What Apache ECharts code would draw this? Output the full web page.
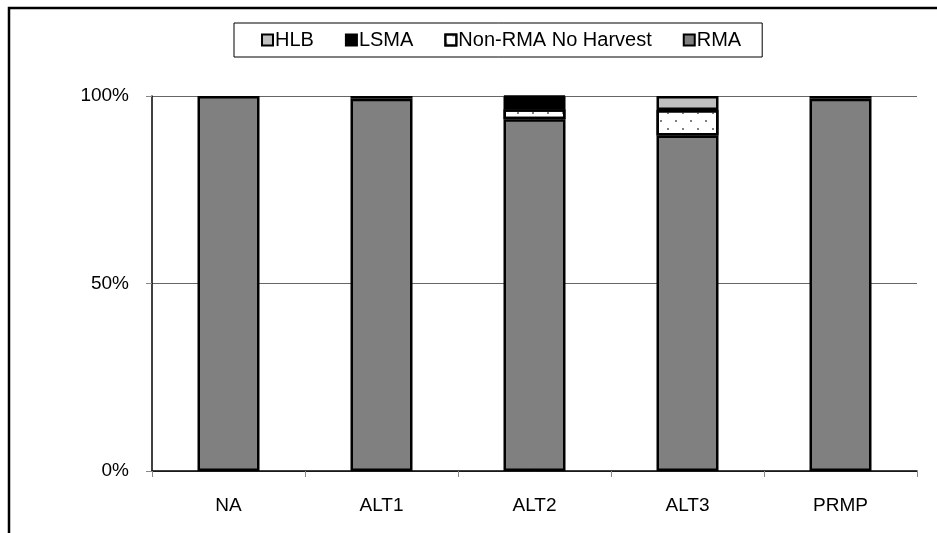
<!DOCTYPE html>
<html><head><meta charset="utf-8">
<script src="https://cdn.jsdelivr.net/npm/echarts@6/dist/echarts.min.js"></script>
<style>html,body{margin:0;padding:0;background:#fff}#c{width:937px;height:533px}</style>
</head><body><div id="c"></div>
<script>
const categories = ['NA', 'ALT1', 'ALT2', 'ALT3', 'PRMP'];
const rma = [100, 99.3, 93.8, 89.5, 99.3];
const nonRma = [0, 0, 2.7, 6.8, 0];
const lsma = [0, 0.7, 3.3, 0, 0.7];
const hlb = [0, 0, 0.2, 3.7, 0];
const yTicks = [0, 50, 100];

const chart = echarts.init(document.getElementById('c'));
const font = 'Liberation Sans, Arial, sans-serif';
const nz = arr => arr.map(v => v === 0 ? '-' : v);
function s(name, data, color, extra) {
  return Object.assign({
    name, type: 'bar', stack: 'a', data: nz(data), barWidth: 62,
    itemStyle: { color, borderColor: '#000', borderWidth: 2.5 },
    emphasis: { disabled: true }
  }, extra || {});
}
chart.setOption({
  animation: false,
  textStyle: { fontFamily: font },
  graphic: [{ type: 'rect', shape: { x: 9, y: 8, width: 1000, height: 600 }, style: { fill: 'none', stroke: '#000', lineWidth: 2.5 } }],
  legend: {
    top: 23, left: 234,
    data: ['HLB', 'LSMA', 'Non-RMA No Harvest', 'RMA'],
    borderColor: '#000', borderWidth: 1, padding: [7, 21, 7, 27],
    itemWidth: 11, itemHeight: 11, itemGap: 31, icon: 'rect',
    textStyle: { fontSize: 20, color: '#000', fontFamily: font, padding: [0, 0, 0, -3] }
  },
  grid: { left: 152, right: 20, top: 96, bottom: 62, containLabel: false },
  xAxis: {
    type: 'category', data: categories,
    axisLine: { lineStyle: { color: '#000', width: 1.5 } },
    axisTick: { show: true, length: 6, lineStyle: { color: '#888' } },
    axisLabel: { fontSize: 19, color: '#000', margin: 25 }
  },
  yAxis: {
    type: 'value', min: 0, max: 100, interval: 50,
    axisLine: { show: true, lineStyle: { color: '#000', width: 1.5 } },
    axisTick: { show: true, length: 6, lineStyle: { color: '#888' } },
    axisLabel: { fontSize: 19, color: '#000', margin: 23, formatter: v => yTicks.includes(v) ? v + '%' : '' },
    splitLine: { lineStyle: { color: '#666', width: 1 } }
  },
  series: [
    s('RMA', rma, '#808080'),
    s('Non-RMA No Harvest', nonRma, '#ffffff', {
      itemStyle: { color: '#ffffff', borderColor: '#000', borderWidth: 2.5,
        decal: { symbol: 'circle', symbolSize: 1, color: '#555', dashArrayX: [[2, 13], [0, 7, 2, 6]], dashArrayY: [2, 6] } }
    }),
    s('LSMA', lsma, '#000000'),
    s('HLB', hlb, '#c0c0c0')
  ]
});
</script></body></html>
